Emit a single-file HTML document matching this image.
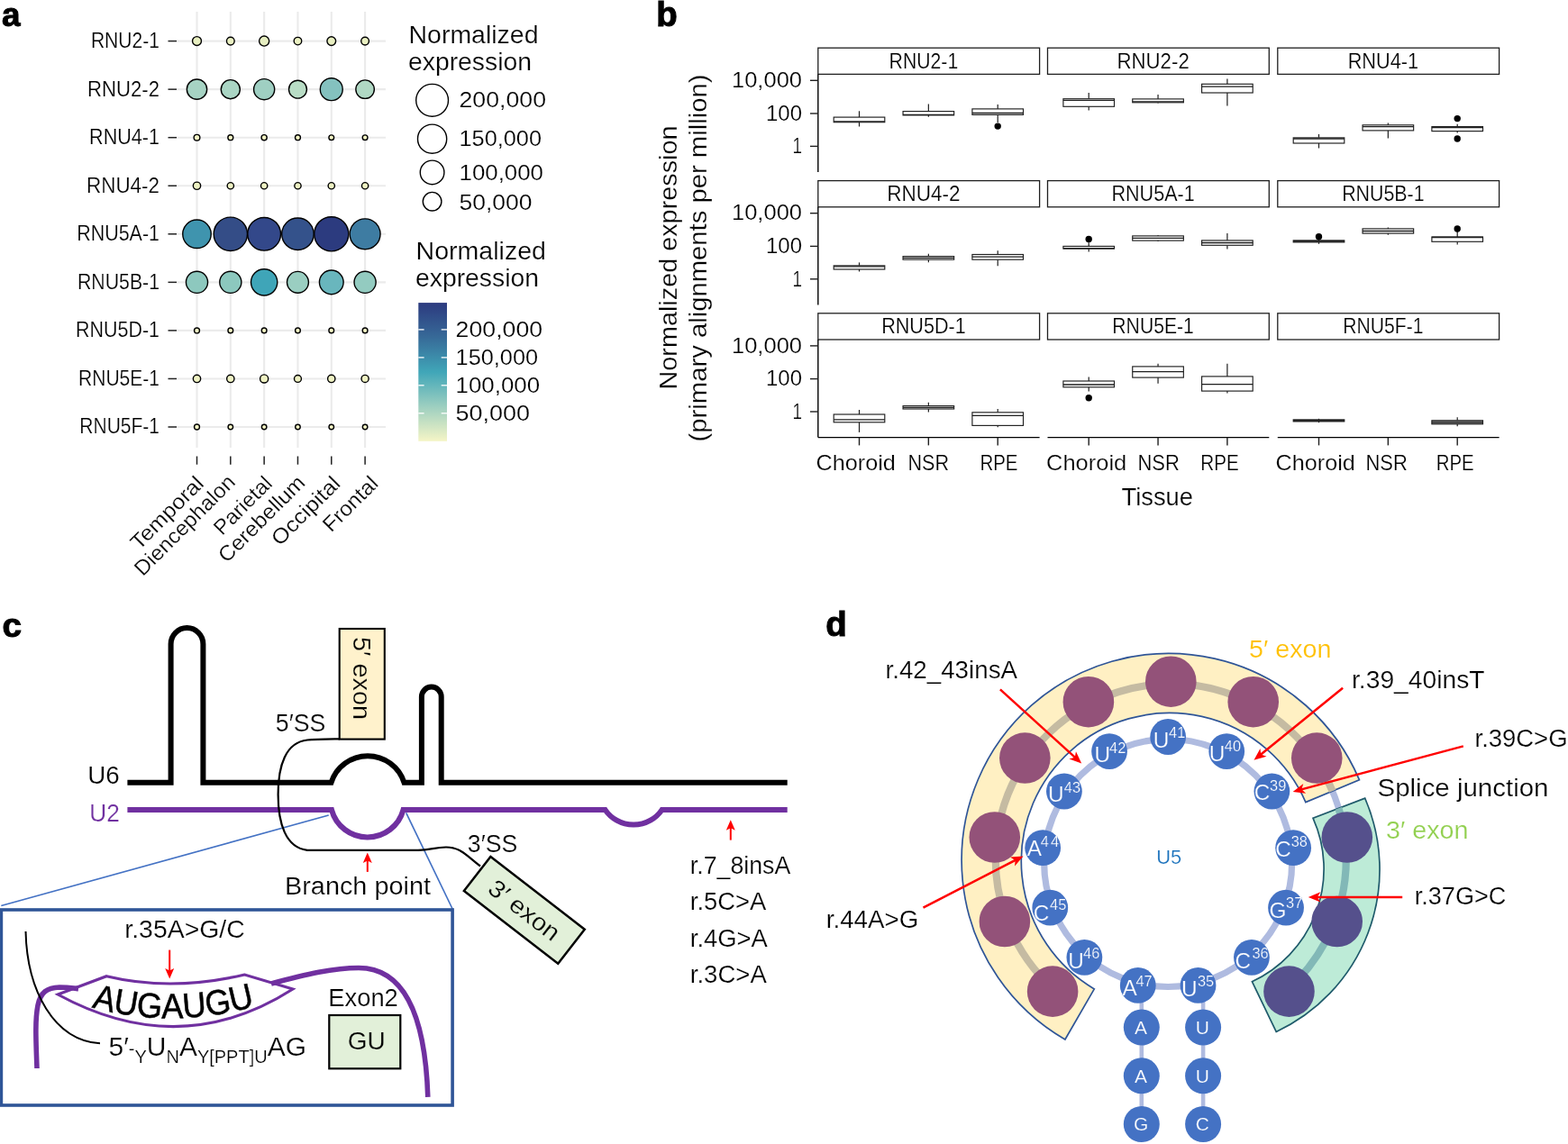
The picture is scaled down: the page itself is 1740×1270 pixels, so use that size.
<!DOCTYPE html>
<html lang="en"><head><meta charset="utf-8"><title>Figure</title>
<style>
html,body{margin:0;padding:0;background:#fff;}
body{width:1740px;height:1270px;overflow:hidden;}
svg{display:block;font-family:'Liberation Sans', sans-serif;}
text{stroke:#fff;stroke-width:0.22px;}
text.k{stroke:#000;}
text.y{stroke:#FFF2CC;}
text.g{stroke:#E2F0D9;}
text.b{stroke:#4472C4;}
</style></head>
<body>
<svg width="1740" height="1270" viewBox="0 0 1740 1270">
<rect width="1740" height="1270" fill="#fff"/>
<g id="panel-a">
<text x="2.10" y="29.30" font-size="37" textLength="20.50" lengthAdjust="spacingAndGlyphs" font-weight="bold" class="k" style="stroke-width:1px">a</text>
<line x1="218.50" y1="13.00" x2="218.50" y2="497.00" stroke="#ebebeb" stroke-width="2.1" />
<line x1="255.82" y1="13.00" x2="255.82" y2="497.00" stroke="#ebebeb" stroke-width="2.1" />
<line x1="293.14" y1="13.00" x2="293.14" y2="497.00" stroke="#ebebeb" stroke-width="2.1" />
<line x1="330.46" y1="13.00" x2="330.46" y2="497.00" stroke="#ebebeb" stroke-width="2.1" />
<line x1="367.78" y1="13.00" x2="367.78" y2="497.00" stroke="#ebebeb" stroke-width="2.1" />
<line x1="405.10" y1="13.00" x2="405.10" y2="497.00" stroke="#ebebeb" stroke-width="2.1" />
<line x1="196.00" y1="45.60" x2="428.00" y2="45.60" stroke="#ebebeb" stroke-width="2.1" />
<line x1="196.00" y1="99.15" x2="428.00" y2="99.15" stroke="#ebebeb" stroke-width="2.1" />
<line x1="196.00" y1="152.70" x2="428.00" y2="152.70" stroke="#ebebeb" stroke-width="2.1" />
<line x1="196.00" y1="206.25" x2="428.00" y2="206.25" stroke="#ebebeb" stroke-width="2.1" />
<line x1="196.00" y1="259.80" x2="428.00" y2="259.80" stroke="#ebebeb" stroke-width="2.1" />
<line x1="196.00" y1="313.35" x2="428.00" y2="313.35" stroke="#ebebeb" stroke-width="2.1" />
<line x1="196.00" y1="366.90" x2="428.00" y2="366.90" stroke="#ebebeb" stroke-width="2.1" />
<line x1="196.00" y1="420.45" x2="428.00" y2="420.45" stroke="#ebebeb" stroke-width="2.1" />
<line x1="196.00" y1="474.00" x2="428.00" y2="474.00" stroke="#ebebeb" stroke-width="2.1" />
<line x1="186.50" y1="45.60" x2="196.00" y2="45.60" stroke="#222" stroke-width="1.5" />
<line x1="186.50" y1="99.15" x2="196.00" y2="99.15" stroke="#222" stroke-width="1.5" />
<line x1="186.50" y1="152.70" x2="196.00" y2="152.70" stroke="#222" stroke-width="1.5" />
<line x1="186.50" y1="206.25" x2="196.00" y2="206.25" stroke="#222" stroke-width="1.5" />
<line x1="186.50" y1="259.80" x2="196.00" y2="259.80" stroke="#222" stroke-width="1.5" />
<line x1="186.50" y1="313.35" x2="196.00" y2="313.35" stroke="#222" stroke-width="1.5" />
<line x1="186.50" y1="366.90" x2="196.00" y2="366.90" stroke="#222" stroke-width="1.5" />
<line x1="186.50" y1="420.45" x2="196.00" y2="420.45" stroke="#222" stroke-width="1.5" />
<line x1="186.50" y1="474.00" x2="196.00" y2="474.00" stroke="#222" stroke-width="1.5" />
<line x1="218.50" y1="506.50" x2="218.50" y2="515.70" stroke="#222" stroke-width="1.5" />
<line x1="255.82" y1="506.50" x2="255.82" y2="515.70" stroke="#222" stroke-width="1.5" />
<line x1="293.14" y1="506.50" x2="293.14" y2="515.70" stroke="#222" stroke-width="1.5" />
<line x1="330.46" y1="506.50" x2="330.46" y2="515.70" stroke="#222" stroke-width="1.5" />
<line x1="367.78" y1="506.50" x2="367.78" y2="515.70" stroke="#222" stroke-width="1.5" />
<line x1="405.10" y1="506.50" x2="405.10" y2="515.70" stroke="#222" stroke-width="1.5" />
<text x="177.00" y="53.00" font-size="23.4" text-anchor="end" textLength="76.10" lengthAdjust="spacingAndGlyphs">RNU2-1</text>
<text x="177.00" y="106.55" font-size="23.4" text-anchor="end" textLength="79.90" lengthAdjust="spacingAndGlyphs">RNU2-2</text>
<text x="177.00" y="160.10" font-size="23.4" text-anchor="end" textLength="77.90" lengthAdjust="spacingAndGlyphs">RNU4-1</text>
<text x="177.00" y="213.65" font-size="23.4" text-anchor="end" textLength="80.90" lengthAdjust="spacingAndGlyphs">RNU4-2</text>
<text x="177.00" y="267.20" font-size="23.4" text-anchor="end" textLength="91.80" lengthAdjust="spacingAndGlyphs">RNU5A-1</text>
<text x="177.00" y="320.75" font-size="23.4" text-anchor="end" textLength="91.00" lengthAdjust="spacingAndGlyphs">RNU5B-1</text>
<text x="177.00" y="374.30" font-size="23.4" text-anchor="end" textLength="93.00" lengthAdjust="spacingAndGlyphs">RNU5D-1</text>
<text x="177.00" y="427.85" font-size="23.4" text-anchor="end" textLength="90.00" lengthAdjust="spacingAndGlyphs">RNU5E-1</text>
<text x="177.00" y="481.40" font-size="23.4" text-anchor="end" textLength="88.70" lengthAdjust="spacingAndGlyphs">RNU5F-1</text>
<circle cx="218.50" cy="45.60" r="4.95" fill="#E8EFC1" stroke="#000" stroke-width="1.4"/>
<circle cx="255.82" cy="45.60" r="4.35" fill="#EAF0C2" stroke="#000" stroke-width="1.4"/>
<circle cx="293.14" cy="45.60" r="5.55" fill="#E6EEC1" stroke="#000" stroke-width="1.4"/>
<circle cx="330.46" cy="45.60" r="4.25" fill="#EBF1C2" stroke="#000" stroke-width="1.4"/>
<circle cx="367.78" cy="45.60" r="4.85" fill="#E8EFC1" stroke="#000" stroke-width="1.4"/>
<circle cx="405.10" cy="45.60" r="4.35" fill="#EAF0C2" stroke="#000" stroke-width="1.4"/>
<circle cx="218.50" cy="99.15" r="11.15" fill="#A6D3C3" stroke="#000" stroke-width="1.4"/>
<circle cx="255.82" cy="99.15" r="10.55" fill="#AAD5C4" stroke="#000" stroke-width="1.4"/>
<circle cx="293.14" cy="99.15" r="11.55" fill="#9FCFC2" stroke="#000" stroke-width="1.4"/>
<circle cx="330.46" cy="99.15" r="9.95" fill="#B8DCC5" stroke="#000" stroke-width="1.4"/>
<circle cx="367.78" cy="99.15" r="12.45" fill="#84C1BF" stroke="#000" stroke-width="1.4"/>
<circle cx="405.10" cy="99.15" r="10.25" fill="#B0D8C4" stroke="#000" stroke-width="1.4"/>
<circle cx="218.50" cy="152.70" r="3.35" fill="#F3F4C4" stroke="#000" stroke-width="1.4"/>
<circle cx="255.82" cy="152.70" r="2.95" fill="#F3F4C4" stroke="#000" stroke-width="1.4"/>
<circle cx="293.14" cy="152.70" r="3.05" fill="#F3F4C4" stroke="#000" stroke-width="1.4"/>
<circle cx="330.46" cy="152.70" r="2.95" fill="#F3F4C4" stroke="#000" stroke-width="1.4"/>
<circle cx="367.78" cy="152.70" r="2.85" fill="#F3F4C4" stroke="#000" stroke-width="1.4"/>
<circle cx="405.10" cy="152.70" r="2.85" fill="#F3F4C4" stroke="#000" stroke-width="1.4"/>
<circle cx="218.50" cy="206.25" r="4.15" fill="#EEF2C3" stroke="#000" stroke-width="1.4"/>
<circle cx="255.82" cy="206.25" r="3.65" fill="#EEF2C3" stroke="#000" stroke-width="1.4"/>
<circle cx="293.14" cy="206.25" r="3.65" fill="#EEF2C3" stroke="#000" stroke-width="1.4"/>
<circle cx="330.46" cy="206.25" r="3.65" fill="#EEF2C3" stroke="#000" stroke-width="1.4"/>
<circle cx="367.78" cy="206.25" r="3.65" fill="#EEF2C3" stroke="#000" stroke-width="1.4"/>
<circle cx="405.10" cy="206.25" r="3.65" fill="#EEF2C3" stroke="#000" stroke-width="1.4"/>
<circle cx="218.50" cy="259.80" r="15.75" fill="#3F94AE" stroke="#000" stroke-width="1.4"/>
<circle cx="255.82" cy="259.80" r="18.65" fill="#344D87" stroke="#000" stroke-width="1.4"/>
<circle cx="293.14" cy="259.80" r="18.35" fill="#33488A" stroke="#000" stroke-width="1.4"/>
<circle cx="330.46" cy="259.80" r="17.75" fill="#34528B" stroke="#000" stroke-width="1.4"/>
<circle cx="367.78" cy="259.80" r="19.05" fill="#2C3B7F" stroke="#000" stroke-width="1.4"/>
<circle cx="405.10" cy="259.80" r="16.95" fill="#3E7CA2" stroke="#000" stroke-width="1.4"/>
<circle cx="218.50" cy="313.35" r="12.05" fill="#8DC8BE" stroke="#000" stroke-width="1.4"/>
<circle cx="255.82" cy="313.35" r="12.05" fill="#8CC8BE" stroke="#000" stroke-width="1.4"/>
<circle cx="293.14" cy="313.35" r="14.65" fill="#3FA5B8" stroke="#000" stroke-width="1.4"/>
<circle cx="330.46" cy="313.35" r="11.95" fill="#9ACEC1" stroke="#000" stroke-width="1.4"/>
<circle cx="367.78" cy="313.35" r="13.35" fill="#69B6BD" stroke="#000" stroke-width="1.4"/>
<circle cx="405.10" cy="313.35" r="12.05" fill="#93CBC0" stroke="#000" stroke-width="1.4"/>
<circle cx="218.50" cy="366.90" r="2.95" fill="#F4F5C5" stroke="#000" stroke-width="1.4"/>
<circle cx="255.82" cy="366.90" r="2.85" fill="#F4F5C5" stroke="#000" stroke-width="1.4"/>
<circle cx="293.14" cy="366.90" r="2.85" fill="#F4F5C5" stroke="#000" stroke-width="1.4"/>
<circle cx="330.46" cy="366.90" r="2.85" fill="#F4F5C5" stroke="#000" stroke-width="1.4"/>
<circle cx="367.78" cy="366.90" r="2.85" fill="#F4F5C5" stroke="#000" stroke-width="1.4"/>
<circle cx="405.10" cy="366.90" r="2.85" fill="#F4F5C5" stroke="#000" stroke-width="1.4"/>
<circle cx="218.50" cy="420.45" r="4.15" fill="#EFF2C3" stroke="#000" stroke-width="1.4"/>
<circle cx="255.82" cy="420.45" r="4.15" fill="#EFF2C3" stroke="#000" stroke-width="1.4"/>
<circle cx="293.14" cy="420.45" r="4.55" fill="#EFF2C3" stroke="#000" stroke-width="1.4"/>
<circle cx="330.46" cy="420.45" r="3.95" fill="#EFF2C3" stroke="#000" stroke-width="1.4"/>
<circle cx="367.78" cy="420.45" r="4.15" fill="#EFF2C3" stroke="#000" stroke-width="1.4"/>
<circle cx="405.10" cy="420.45" r="4.05" fill="#EFF2C3" stroke="#000" stroke-width="1.4"/>
<circle cx="218.50" cy="474.00" r="2.95" fill="#F4F5C5" stroke="#000" stroke-width="1.4"/>
<circle cx="255.82" cy="474.00" r="2.75" fill="#F4F5C5" stroke="#000" stroke-width="1.4"/>
<circle cx="293.14" cy="474.00" r="2.75" fill="#F4F5C5" stroke="#000" stroke-width="1.4"/>
<circle cx="330.46" cy="474.00" r="2.75" fill="#F4F5C5" stroke="#000" stroke-width="1.4"/>
<circle cx="367.78" cy="474.00" r="2.75" fill="#F4F5C5" stroke="#000" stroke-width="1.4"/>
<circle cx="405.10" cy="474.00" r="2.75" fill="#F4F5C5" stroke="#000" stroke-width="1.4"/>
<text font-size="23.4" text-anchor="end" textLength="103.5" lengthAdjust="spacingAndGlyphs" transform="translate(227.40,538.30) rotate(-45)">Temporal</text>
<text font-size="23.4" text-anchor="end" textLength="147" lengthAdjust="spacingAndGlyphs" transform="translate(262.40,536.60) rotate(-45)">Diencephalon</text>
<text font-size="23.4" text-anchor="end" textLength="80.5" lengthAdjust="spacingAndGlyphs" transform="translate(303.40,538.30) rotate(-45)">Parietal</text>
<text font-size="23.4" text-anchor="end" textLength="125" lengthAdjust="spacingAndGlyphs" transform="translate(339.90,537.40) rotate(-45)">Cerebellum</text>
<text font-size="23.4" text-anchor="end" textLength="97" lengthAdjust="spacingAndGlyphs" transform="translate(379.10,538.30) rotate(-45)">Occipital</text>
<text font-size="23.4" text-anchor="end" textLength="75.5" lengthAdjust="spacingAndGlyphs" transform="translate(421.00,538.30) rotate(-45)">Frontal</text>
<text x="453.50" y="48.00" font-size="27.5" textLength="144.00" lengthAdjust="spacingAndGlyphs">Normalized</text>
<text x="453.00" y="77.50" font-size="27.5" textLength="137.00" lengthAdjust="spacingAndGlyphs">expression</text>
<circle cx="479.6" cy="111.3" r="17.90" fill="#fff" stroke="#000" stroke-width="1.4"/>
<text x="509.50" y="119.00" font-size="24.8" textLength="96.50" lengthAdjust="spacingAndGlyphs">200,000</text>
<circle cx="479.6" cy="154.2" r="16.10" fill="#fff" stroke="#000" stroke-width="1.4"/>
<text x="509.50" y="161.90" font-size="24.8" textLength="91.50" lengthAdjust="spacingAndGlyphs">150,000</text>
<circle cx="479.6" cy="191.4" r="13.30" fill="#fff" stroke="#000" stroke-width="1.4"/>
<text x="509.50" y="199.50" font-size="24.8" textLength="93.50" lengthAdjust="spacingAndGlyphs">100,000</text>
<circle cx="479.6" cy="223.7" r="10.30" fill="#fff" stroke="#000" stroke-width="1.4"/>
<text x="509.50" y="232.50" font-size="24.8" textLength="81.00" lengthAdjust="spacingAndGlyphs">50,000</text>
<text x="461.50" y="288.40" font-size="27.5" textLength="144.50" lengthAdjust="spacingAndGlyphs">Normalized</text>
<text x="461.00" y="318.00" font-size="27.5" textLength="137.00" lengthAdjust="spacingAndGlyphs">expression</text>
<defs><linearGradient id="cb" x1="0" y1="0" x2="0" y2="1"><stop offset="0" stop-color="#2C3A7F"/><stop offset="0.25" stop-color="#376A98"/><stop offset="0.5" stop-color="#40A6B8"/><stop offset="0.75" stop-color="#9DCFC0"/><stop offset="1" stop-color="#F5F5C6"/></linearGradient></defs>
<rect x="464.3" y="336.1" width="31.7" height="153.7" fill="url(#cb)"/>
<line x1="464.30" y1="365.90" x2="470.60" y2="365.90" stroke="#fff" stroke-width="1.3" />
<line x1="489.70" y1="365.90" x2="496.00" y2="365.90" stroke="#fff" stroke-width="1.3" />
<text x="505.60" y="374.00" font-size="24.8" textLength="96.50" lengthAdjust="spacingAndGlyphs">200,000</text>
<line x1="464.30" y1="396.90" x2="470.60" y2="396.90" stroke="#fff" stroke-width="1.3" />
<line x1="489.70" y1="396.90" x2="496.00" y2="396.90" stroke="#fff" stroke-width="1.3" />
<text x="505.60" y="405.00" font-size="24.8" textLength="91.50" lengthAdjust="spacingAndGlyphs">150,000</text>
<line x1="464.30" y1="427.80" x2="470.60" y2="427.80" stroke="#fff" stroke-width="1.3" />
<line x1="489.70" y1="427.80" x2="496.00" y2="427.80" stroke="#fff" stroke-width="1.3" />
<text x="505.60" y="435.90" font-size="24.8" textLength="93.50" lengthAdjust="spacingAndGlyphs">100,000</text>
<line x1="464.30" y1="458.80" x2="470.60" y2="458.80" stroke="#fff" stroke-width="1.3" />
<line x1="489.70" y1="458.80" x2="496.00" y2="458.80" stroke="#fff" stroke-width="1.3" />
<text x="505.60" y="466.90" font-size="24.8" textLength="82.50" lengthAdjust="spacingAndGlyphs">50,000</text>
</g>
<g id="panel-b">
<text x="728.30" y="29.20" font-size="38" textLength="23.50" lengthAdjust="spacingAndGlyphs" font-weight="bold" class="k" style="stroke-width:1px">b</text>
<rect x="907.80" y="53.20" width="245.8" height="29.2" fill="#fff" stroke="#1f1f1f" stroke-width="1.3"/>
<text x="1024.90" y="75.50" font-size="23.4" text-anchor="middle" textLength="76.60" lengthAdjust="spacingAndGlyphs">RNU2-1</text>
<line x1="907.80" y1="82.40" x2="907.80" y2="191.00" stroke="#000" stroke-width="1.4" />
<line x1="899.00" y1="89.30" x2="907.80" y2="89.30" stroke="#1f1f1f" stroke-width="1.4" />
<text x="890.00" y="97.00" font-size="24.1" text-anchor="end" textLength="78.00" lengthAdjust="spacingAndGlyphs">10,000</text>
<line x1="899.00" y1="126.00" x2="907.80" y2="126.00" stroke="#1f1f1f" stroke-width="1.4" />
<text x="890.00" y="133.70" font-size="24.1" text-anchor="end" textLength="40.00" lengthAdjust="spacingAndGlyphs">100</text>
<line x1="899.00" y1="162.40" x2="907.80" y2="162.40" stroke="#1f1f1f" stroke-width="1.4" />
<text x="890.00" y="170.10" font-size="24.1" text-anchor="end" textLength="10.50" lengthAdjust="spacingAndGlyphs">1</text>
<line x1="953.50" y1="123.30" x2="953.50" y2="130.10" stroke="#1f1f1f" stroke-width="1.2" />
<line x1="953.50" y1="135.70" x2="953.50" y2="140.50" stroke="#1f1f1f" stroke-width="1.2" />
<rect x="925.20" y="130.10" width="56.6" height="5.60" fill="#fff" stroke="#1f1f1f" stroke-width="1.15"/>
<line x1="925.20" y1="134.90" x2="981.80" y2="134.90" stroke="#1f1f1f" stroke-width="1.3" />
<line x1="1030.35" y1="115.40" x2="1030.35" y2="123.60" stroke="#1f1f1f" stroke-width="1.2" />
<line x1="1030.35" y1="127.90" x2="1030.35" y2="129.80" stroke="#1f1f1f" stroke-width="1.2" />
<rect x="1002.05" y="123.60" width="56.6" height="4.30" fill="#fff" stroke="#1f1f1f" stroke-width="1.15"/>
<line x1="1002.05" y1="127.40" x2="1058.65" y2="127.40" stroke="#1f1f1f" stroke-width="1.3" />
<line x1="1107.20" y1="115.90" x2="1107.20" y2="120.90" stroke="#1f1f1f" stroke-width="1.2" />
<line x1="1107.20" y1="127.40" x2="1107.20" y2="136.00" stroke="#1f1f1f" stroke-width="1.2" />
<rect x="1078.90" y="120.90" width="56.6" height="6.50" fill="#fff" stroke="#1f1f1f" stroke-width="1.15"/>
<line x1="1078.90" y1="125.50" x2="1135.50" y2="125.50" stroke="#1f1f1f" stroke-width="1.3" />
<circle cx="1107.20" cy="140.1" r="3.7" fill="#000"/>
<rect x="1162.50" y="53.20" width="245.8" height="29.2" fill="#fff" stroke="#1f1f1f" stroke-width="1.3"/>
<text x="1279.60" y="75.50" font-size="23.4" text-anchor="middle" textLength="80.40" lengthAdjust="spacingAndGlyphs">RNU2-2</text>
<line x1="1208.20" y1="103.10" x2="1208.20" y2="109.70" stroke="#1f1f1f" stroke-width="1.2" />
<line x1="1208.20" y1="118.30" x2="1208.20" y2="122.60" stroke="#1f1f1f" stroke-width="1.2" />
<rect x="1179.90" y="109.70" width="56.6" height="8.60" fill="#fff" stroke="#1f1f1f" stroke-width="1.15"/>
<line x1="1179.90" y1="111.40" x2="1236.50" y2="111.40" stroke="#1f1f1f" stroke-width="1.3" />
<line x1="1285.05" y1="105.10" x2="1285.05" y2="109.90" stroke="#1f1f1f" stroke-width="1.2" />
<line x1="1285.05" y1="113.80" x2="1285.05" y2="114.60" stroke="#1f1f1f" stroke-width="1.2" />
<rect x="1256.75" y="109.90" width="56.6" height="3.90" fill="#fff" stroke="#1f1f1f" stroke-width="1.15"/>
<line x1="1256.75" y1="112.80" x2="1313.35" y2="112.80" stroke="#1f1f1f" stroke-width="1.3" />
<line x1="1361.90" y1="87.40" x2="1361.90" y2="93.30" stroke="#1f1f1f" stroke-width="1.2" />
<line x1="1361.90" y1="103.00" x2="1361.90" y2="117.40" stroke="#1f1f1f" stroke-width="1.2" />
<rect x="1333.60" y="93.30" width="56.6" height="9.70" fill="#fff" stroke="#1f1f1f" stroke-width="1.15"/>
<line x1="1333.60" y1="96.10" x2="1390.20" y2="96.10" stroke="#1f1f1f" stroke-width="1.3" />
<rect x="1417.80" y="53.20" width="245.8" height="29.2" fill="#fff" stroke="#1f1f1f" stroke-width="1.3"/>
<text x="1534.90" y="75.50" font-size="23.4" text-anchor="middle" textLength="78.40" lengthAdjust="spacingAndGlyphs">RNU4-1</text>
<line x1="1463.50" y1="149.00" x2="1463.50" y2="152.90" stroke="#1f1f1f" stroke-width="1.2" />
<line x1="1463.50" y1="159.00" x2="1463.50" y2="164.50" stroke="#1f1f1f" stroke-width="1.2" />
<rect x="1435.20" y="152.90" width="56.6" height="6.10" fill="#fff" stroke="#1f1f1f" stroke-width="1.15"/>
<line x1="1435.20" y1="154.00" x2="1491.80" y2="154.00" stroke="#1f1f1f" stroke-width="1.3" />
<line x1="1540.35" y1="136.50" x2="1540.35" y2="138.80" stroke="#1f1f1f" stroke-width="1.2" />
<line x1="1540.35" y1="144.90" x2="1540.35" y2="153.50" stroke="#1f1f1f" stroke-width="1.2" />
<rect x="1512.05" y="138.80" width="56.6" height="6.10" fill="#fff" stroke="#1f1f1f" stroke-width="1.15"/>
<line x1="1512.05" y1="140.60" x2="1568.65" y2="140.60" stroke="#1f1f1f" stroke-width="1.3" />
<line x1="1617.20" y1="137.80" x2="1617.20" y2="140.60" stroke="#1f1f1f" stroke-width="1.2" />
<line x1="1617.20" y1="145.60" x2="1617.20" y2="147.50" stroke="#1f1f1f" stroke-width="1.2" />
<rect x="1588.90" y="140.60" width="56.6" height="5.00" fill="#fff" stroke="#1f1f1f" stroke-width="1.15"/>
<line x1="1588.90" y1="141.70" x2="1645.50" y2="141.70" stroke="#1f1f1f" stroke-width="1.3" />
<circle cx="1617.20" cy="131.6" r="3.7" fill="#000"/>
<circle cx="1617.20" cy="154.0" r="3.7" fill="#000"/>
<rect x="907.80" y="200.60" width="245.8" height="29.2" fill="#fff" stroke="#1f1f1f" stroke-width="1.3"/>
<text x="1024.90" y="222.90" font-size="23.4" text-anchor="middle" textLength="81.40" lengthAdjust="spacingAndGlyphs">RNU4-2</text>
<line x1="907.80" y1="229.80" x2="907.80" y2="338.40" stroke="#000" stroke-width="1.4" />
<line x1="899.00" y1="236.70" x2="907.80" y2="236.70" stroke="#1f1f1f" stroke-width="1.4" />
<text x="890.00" y="244.40" font-size="24.1" text-anchor="end" textLength="78.00" lengthAdjust="spacingAndGlyphs">10,000</text>
<line x1="899.00" y1="273.40" x2="907.80" y2="273.40" stroke="#1f1f1f" stroke-width="1.4" />
<text x="890.00" y="281.10" font-size="24.1" text-anchor="end" textLength="40.00" lengthAdjust="spacingAndGlyphs">100</text>
<line x1="899.00" y1="309.80" x2="907.80" y2="309.80" stroke="#1f1f1f" stroke-width="1.4" />
<text x="890.00" y="317.50" font-size="24.1" text-anchor="end" textLength="10.50" lengthAdjust="spacingAndGlyphs">1</text>
<line x1="953.50" y1="291.40" x2="953.50" y2="294.90" stroke="#1f1f1f" stroke-width="1.2" />
<line x1="953.50" y1="299.00" x2="953.50" y2="301.50" stroke="#1f1f1f" stroke-width="1.2" />
<rect x="925.20" y="294.90" width="56.6" height="4.10" fill="#fff" stroke="#1f1f1f" stroke-width="1.15"/>
<line x1="925.20" y1="295.90" x2="981.80" y2="295.90" stroke="#1f1f1f" stroke-width="1.3" />
<line x1="1030.35" y1="281.80" x2="1030.35" y2="284.60" stroke="#1f1f1f" stroke-width="1.2" />
<line x1="1030.35" y1="288.20" x2="1030.35" y2="291.20" stroke="#1f1f1f" stroke-width="1.2" />
<rect x="1002.05" y="284.60" width="56.6" height="3.60" fill="#fff" stroke="#1f1f1f" stroke-width="1.15"/>
<line x1="1002.05" y1="286.30" x2="1058.65" y2="286.30" stroke="#1f1f1f" stroke-width="1.3" />
<line x1="1107.20" y1="278.20" x2="1107.20" y2="282.50" stroke="#1f1f1f" stroke-width="1.2" />
<line x1="1107.20" y1="288.20" x2="1107.20" y2="295.20" stroke="#1f1f1f" stroke-width="1.2" />
<rect x="1078.90" y="282.50" width="56.6" height="5.70" fill="#fff" stroke="#1f1f1f" stroke-width="1.15"/>
<line x1="1078.90" y1="285.20" x2="1135.50" y2="285.20" stroke="#1f1f1f" stroke-width="1.3" />
<rect x="1162.50" y="200.60" width="245.8" height="29.2" fill="#fff" stroke="#1f1f1f" stroke-width="1.3"/>
<text x="1279.60" y="222.90" font-size="23.4" text-anchor="middle" textLength="92.30" lengthAdjust="spacingAndGlyphs">RNU5A-1</text>
<line x1="1208.20" y1="268.00" x2="1208.20" y2="273.40" stroke="#1f1f1f" stroke-width="1.2" />
<line x1="1208.20" y1="276.10" x2="1208.20" y2="279.60" stroke="#1f1f1f" stroke-width="1.2" />
<rect x="1179.90" y="273.40" width="56.6" height="2.70" fill="#fff" stroke="#1f1f1f" stroke-width="1.15"/>
<line x1="1179.90" y1="275.70" x2="1236.50" y2="275.70" stroke="#1f1f1f" stroke-width="1.3" />
<circle cx="1208.20" cy="265.4" r="3.7" fill="#000"/>
<line x1="1285.05" y1="261.00" x2="1285.05" y2="261.90" stroke="#1f1f1f" stroke-width="1.2" />
<line x1="1285.05" y1="267.10" x2="1285.05" y2="268.00" stroke="#1f1f1f" stroke-width="1.2" />
<rect x="1256.75" y="261.90" width="56.6" height="5.20" fill="#fff" stroke="#1f1f1f" stroke-width="1.15"/>
<line x1="1256.75" y1="264.30" x2="1313.35" y2="264.30" stroke="#1f1f1f" stroke-width="1.3" />
<line x1="1361.90" y1="258.90" x2="1361.90" y2="266.90" stroke="#1f1f1f" stroke-width="1.2" />
<line x1="1361.90" y1="272.30" x2="1361.90" y2="276.40" stroke="#1f1f1f" stroke-width="1.2" />
<rect x="1333.60" y="266.90" width="56.6" height="5.40" fill="#fff" stroke="#1f1f1f" stroke-width="1.15"/>
<line x1="1333.60" y1="269.50" x2="1390.20" y2="269.50" stroke="#1f1f1f" stroke-width="1.3" />
<rect x="1417.80" y="200.60" width="245.8" height="29.2" fill="#fff" stroke="#1f1f1f" stroke-width="1.3"/>
<text x="1534.90" y="222.90" font-size="23.4" text-anchor="middle" textLength="91.50" lengthAdjust="spacingAndGlyphs">RNU5B-1</text>
<line x1="1463.50" y1="265.50" x2="1463.50" y2="266.90" stroke="#1f1f1f" stroke-width="1.2" />
<line x1="1463.50" y1="268.90" x2="1463.50" y2="270.80" stroke="#1f1f1f" stroke-width="1.2" />
<rect x="1435.20" y="266.90" width="56.6" height="2.00" fill="#555" stroke="#1f1f1f" stroke-width="1.15"/>
<line x1="1435.20" y1="267.60" x2="1491.80" y2="267.60" stroke="#1f1f1f" stroke-width="1.3" />
<circle cx="1463.50" cy="262.7" r="3.7" fill="#000"/>
<line x1="1540.35" y1="252.40" x2="1540.35" y2="253.90" stroke="#1f1f1f" stroke-width="1.2" />
<line x1="1540.35" y1="259.10" x2="1540.35" y2="260.70" stroke="#1f1f1f" stroke-width="1.2" />
<rect x="1512.05" y="253.90" width="56.6" height="5.20" fill="#fff" stroke="#1f1f1f" stroke-width="1.15"/>
<line x1="1512.05" y1="256.50" x2="1568.65" y2="256.50" stroke="#1f1f1f" stroke-width="1.3" />
<line x1="1617.20" y1="257.00" x2="1617.20" y2="263.00" stroke="#1f1f1f" stroke-width="1.2" />
<line x1="1617.20" y1="268.30" x2="1617.20" y2="271.50" stroke="#1f1f1f" stroke-width="1.2" />
<rect x="1588.90" y="263.00" width="56.6" height="5.30" fill="#fff" stroke="#1f1f1f" stroke-width="1.15"/>
<line x1="1588.90" y1="263.50" x2="1645.50" y2="263.50" stroke="#1f1f1f" stroke-width="1.3" />
<circle cx="1617.20" cy="254.0" r="3.7" fill="#000"/>
<rect x="907.80" y="347.80" width="245.8" height="29.2" fill="#fff" stroke="#1f1f1f" stroke-width="1.3"/>
<text x="1024.90" y="370.10" font-size="23.4" text-anchor="middle" textLength="93.50" lengthAdjust="spacingAndGlyphs">RNU5D-1</text>
<line x1="907.80" y1="377.00" x2="907.80" y2="485.60" stroke="#000" stroke-width="1.4" />
<line x1="899.00" y1="383.90" x2="907.80" y2="383.90" stroke="#1f1f1f" stroke-width="1.4" />
<text x="890.00" y="391.60" font-size="24.1" text-anchor="end" textLength="78.00" lengthAdjust="spacingAndGlyphs">10,000</text>
<line x1="899.00" y1="420.60" x2="907.80" y2="420.60" stroke="#1f1f1f" stroke-width="1.4" />
<text x="890.00" y="428.30" font-size="24.1" text-anchor="end" textLength="40.00" lengthAdjust="spacingAndGlyphs">100</text>
<line x1="899.00" y1="457.00" x2="907.80" y2="457.00" stroke="#1f1f1f" stroke-width="1.4" />
<text x="890.00" y="464.70" font-size="24.1" text-anchor="end" textLength="10.50" lengthAdjust="spacingAndGlyphs">1</text>
<line x1="907.80" y1="485.60" x2="1153.60" y2="485.60" stroke="#000" stroke-width="1.4" />
<line x1="953.50" y1="485.60" x2="953.50" y2="494.40" stroke="#1f1f1f" stroke-width="1.4" />
<text x="905.50" y="521.80" font-size="24" textLength="88.30" lengthAdjust="spacingAndGlyphs">Choroid</text>
<line x1="1030.35" y1="485.60" x2="1030.35" y2="494.40" stroke="#1f1f1f" stroke-width="1.4" />
<text x="1007.50" y="521.80" font-size="24" textLength="45.50" lengthAdjust="spacingAndGlyphs">NSR</text>
<line x1="1107.20" y1="485.60" x2="1107.20" y2="494.40" stroke="#1f1f1f" stroke-width="1.4" />
<text x="1087.50" y="521.80" font-size="24" textLength="42.00" lengthAdjust="spacingAndGlyphs">RPE</text>
<line x1="953.50" y1="455.00" x2="953.50" y2="460.00" stroke="#1f1f1f" stroke-width="1.2" />
<line x1="953.50" y1="468.80" x2="953.50" y2="479.90" stroke="#1f1f1f" stroke-width="1.2" />
<rect x="925.20" y="460.00" width="56.6" height="8.80" fill="#fff" stroke="#1f1f1f" stroke-width="1.15"/>
<line x1="925.20" y1="465.80" x2="981.80" y2="465.80" stroke="#1f1f1f" stroke-width="1.3" />
<line x1="1030.35" y1="446.70" x2="1030.35" y2="450.60" stroke="#1f1f1f" stroke-width="1.2" />
<line x1="1030.35" y1="454.00" x2="1030.35" y2="457.50" stroke="#1f1f1f" stroke-width="1.2" />
<rect x="1002.05" y="450.60" width="56.6" height="3.40" fill="#fff" stroke="#1f1f1f" stroke-width="1.15"/>
<line x1="1002.05" y1="452.30" x2="1058.65" y2="452.30" stroke="#1f1f1f" stroke-width="1.3" />
<line x1="1107.20" y1="454.10" x2="1107.20" y2="457.80" stroke="#1f1f1f" stroke-width="1.2" />
<line x1="1107.20" y1="472.40" x2="1107.20" y2="474.30" stroke="#1f1f1f" stroke-width="1.2" />
<rect x="1078.90" y="457.80" width="56.6" height="14.60" fill="#fff" stroke="#1f1f1f" stroke-width="1.15"/>
<line x1="1078.90" y1="461.30" x2="1135.50" y2="461.30" stroke="#1f1f1f" stroke-width="1.3" />
<rect x="1162.50" y="347.80" width="245.8" height="29.2" fill="#fff" stroke="#1f1f1f" stroke-width="1.3"/>
<text x="1279.60" y="370.10" font-size="23.4" text-anchor="middle" textLength="90.50" lengthAdjust="spacingAndGlyphs">RNU5E-1</text>
<line x1="1162.50" y1="485.60" x2="1408.30" y2="485.60" stroke="#000" stroke-width="1.4" />
<line x1="1208.20" y1="485.60" x2="1208.20" y2="494.40" stroke="#1f1f1f" stroke-width="1.4" />
<text x="1161.10" y="521.80" font-size="24" textLength="89.10" lengthAdjust="spacingAndGlyphs">Choroid</text>
<line x1="1285.05" y1="485.60" x2="1285.05" y2="494.40" stroke="#1f1f1f" stroke-width="1.4" />
<text x="1262.50" y="521.80" font-size="24" textLength="46.40" lengthAdjust="spacingAndGlyphs">NSR</text>
<line x1="1361.90" y1="485.60" x2="1361.90" y2="494.40" stroke="#1f1f1f" stroke-width="1.4" />
<text x="1332.30" y="521.80" font-size="24" textLength="42.50" lengthAdjust="spacingAndGlyphs">RPE</text>
<line x1="1208.20" y1="418.50" x2="1208.20" y2="423.00" stroke="#1f1f1f" stroke-width="1.2" />
<line x1="1208.20" y1="429.80" x2="1208.20" y2="434.40" stroke="#1f1f1f" stroke-width="1.2" />
<rect x="1179.90" y="423.00" width="56.6" height="6.80" fill="#fff" stroke="#1f1f1f" stroke-width="1.15"/>
<line x1="1179.90" y1="427.00" x2="1236.50" y2="427.00" stroke="#1f1f1f" stroke-width="1.3" />
<circle cx="1208.20" cy="441.8" r="3.7" fill="#000"/>
<line x1="1285.05" y1="403.70" x2="1285.05" y2="406.90" stroke="#1f1f1f" stroke-width="1.2" />
<line x1="1285.05" y1="419.10" x2="1285.05" y2="425.70" stroke="#1f1f1f" stroke-width="1.2" />
<rect x="1256.75" y="406.90" width="56.6" height="12.20" fill="#fff" stroke="#1f1f1f" stroke-width="1.15"/>
<line x1="1256.75" y1="412.70" x2="1313.35" y2="412.70" stroke="#1f1f1f" stroke-width="1.3" />
<line x1="1361.90" y1="403.70" x2="1361.90" y2="417.90" stroke="#1f1f1f" stroke-width="1.2" />
<line x1="1361.90" y1="434.10" x2="1361.90" y2="436.40" stroke="#1f1f1f" stroke-width="1.2" />
<rect x="1333.60" y="417.90" width="56.6" height="16.20" fill="#fff" stroke="#1f1f1f" stroke-width="1.15"/>
<line x1="1333.60" y1="426.60" x2="1390.20" y2="426.60" stroke="#1f1f1f" stroke-width="1.3" />
<rect x="1417.80" y="347.80" width="245.8" height="29.2" fill="#fff" stroke="#1f1f1f" stroke-width="1.3"/>
<text x="1534.90" y="370.10" font-size="23.4" text-anchor="middle" textLength="89.20" lengthAdjust="spacingAndGlyphs">RNU5F-1</text>
<line x1="1417.80" y1="485.60" x2="1663.60" y2="485.60" stroke="#000" stroke-width="1.4" />
<line x1="1463.50" y1="485.60" x2="1463.50" y2="494.40" stroke="#1f1f1f" stroke-width="1.4" />
<text x="1415.50" y="521.80" font-size="24" textLength="88.30" lengthAdjust="spacingAndGlyphs">Choroid</text>
<line x1="1540.35" y1="485.60" x2="1540.35" y2="494.40" stroke="#1f1f1f" stroke-width="1.4" />
<text x="1515.50" y="521.80" font-size="24" textLength="46.30" lengthAdjust="spacingAndGlyphs">NSR</text>
<line x1="1617.20" y1="485.60" x2="1617.20" y2="494.40" stroke="#1f1f1f" stroke-width="1.4" />
<text x="1593.70" y="521.80" font-size="24" textLength="42.00" lengthAdjust="spacingAndGlyphs">RPE</text>
<line x1="1463.50" y1="464.80" x2="1463.50" y2="465.90" stroke="#1f1f1f" stroke-width="1.2" />
<line x1="1463.50" y1="467.90" x2="1463.50" y2="469.20" stroke="#1f1f1f" stroke-width="1.2" />
<rect x="1435.20" y="465.90" width="56.6" height="2.00" fill="#333" stroke="#1f1f1f" stroke-width="1.15"/>
<line x1="1435.20" y1="466.90" x2="1491.80" y2="466.90" stroke="#1f1f1f" stroke-width="1.3" />
<line x1="1617.20" y1="463.30" x2="1617.20" y2="466.80" stroke="#1f1f1f" stroke-width="1.2" />
<line x1="1617.20" y1="470.80" x2="1617.20" y2="473.20" stroke="#1f1f1f" stroke-width="1.2" />
<rect x="1588.90" y="466.80" width="56.6" height="4.00" fill="#8a8a8a" stroke="#1f1f1f" stroke-width="1.15"/>
<line x1="1588.90" y1="468.80" x2="1645.50" y2="468.80" stroke="#1f1f1f" stroke-width="1.3" />
<text x="1244.50" y="561.00" font-size="28" textLength="79.50" lengthAdjust="spacingAndGlyphs">Tissue</text>
<text font-size="28" text-anchor="middle" textLength="293" lengthAdjust="spacingAndGlyphs" transform="translate(751,286) rotate(-90)">Normalized expression</text>
<text font-size="28" text-anchor="middle" textLength="408" lengthAdjust="spacingAndGlyphs" transform="translate(783.8,286.5) rotate(-90)">(primary alignments per million)</text>
</g>
<g id="panel-c">
<text x="2.60" y="706.60" font-size="37" textLength="21.50" lengthAdjust="spacingAndGlyphs" font-weight="bold" class="k" style="stroke-width:1px">c</text>
<line x1="364.70" y1="905.00" x2="1.30" y2="1005.50" stroke="#4472C4" stroke-width="1.7" />
<line x1="450.70" y1="902.30" x2="502.10" y2="1009.00" stroke="#4472C4" stroke-width="1.7" />
<path d="M141.4 868.8 H189.6 V715 A17.9 17.9 0 0 1 225.4 715 V868.8 H367.5 A42.5 42.5 0 0 1 448.5 868.8 H467.9 V773.5 A10.9 10.9 0 0 1 489.7 773.5 V868.8 H873.7" fill="none" stroke="#000" stroke-width="6" stroke-linejoin="miter"/>
<path d="M141.4 899.1 H368 A41.2 41.2 0 0 0 447.5 899.1 H671.6 A38.2 38.2 0 0 0 734.5 899.1 H873.7" fill="none" stroke="#7030A0" stroke-width="6"/>
<text x="97.30" y="869.70" font-size="27" textLength="35.50" lengthAdjust="spacingAndGlyphs">U6</text>
<text x="99.30" y="912.30" font-size="27" textLength="33.50" lengthAdjust="spacingAndGlyphs" fill="#7030A0">U2</text>
<rect x="376.7" y="698" width="50.1" height="122.6" fill="#FFF2CC" stroke="#000" stroke-width="2.1"/>
<text class="y" font-size="27" text-anchor="middle" textLength="92" lengthAdjust="spacingAndGlyphs" transform="translate(392,753) rotate(90)">5′ exon</text>
<text x="305.80" y="812.20" font-size="27" textLength="55.50" lengthAdjust="spacingAndGlyphs">5′SS</text>
<path d="M376.7 820.3 C360 820.5 350 820.5 341 821.5 C317 824 308.6 850 308.6 882 C308.6 914 317 941 341 943.8 L464 943.8 C478 943.8 482 940.5 495 940.5 C512 940.5 520 952 533 961.5" fill="none" stroke="#000" stroke-width="2.2"/>
<line x1="407.80" y1="967.90" x2="407.80" y2="949.50" stroke="#FF0000" stroke-width="2" />
<path d="M407.80 946.50 L402.80 958.00 L407.80 955.50 L412.80 958.00 Z" fill="#FF0000"/>
<text x="316.00" y="992.60" font-size="27" textLength="162.00" lengthAdjust="spacingAndGlyphs">Branch point</text>
<g transform="translate(544.4,950.9) rotate(37.75)"><rect x="0" y="0" width="132" height="48.2" fill="#E2F0D9" stroke="#000" stroke-width="2.5"/><text class="g" x="66" y="33.3" font-size="27" text-anchor="middle" textLength="92" lengthAdjust="spacingAndGlyphs">3′ exon</text></g>
<text x="518.80" y="945.90" font-size="27" textLength="55.50" lengthAdjust="spacingAndGlyphs">3′SS</text>
<line x1="810.80" y1="932.60" x2="810.80" y2="913.30" stroke="#FF0000" stroke-width="2" />
<path d="M810.80 910.30 L805.80 921.80 L810.80 919.30 L815.80 921.80 Z" fill="#FF0000"/>
<text x="765.80" y="970.20" font-size="27" textLength="111.50" lengthAdjust="spacingAndGlyphs">r.7_8insA</text>
<text x="765.80" y="1010.35" font-size="27" textLength="84.50" lengthAdjust="spacingAndGlyphs">r.5C&gt;A</text>
<text x="765.80" y="1050.50" font-size="27" textLength="86.00" lengthAdjust="spacingAndGlyphs">r.4G&gt;A</text>
<text x="765.80" y="1090.65" font-size="27" textLength="85.00" lengthAdjust="spacingAndGlyphs">r.3C&gt;A</text>
<rect x="1.4" y="1010" width="500.7" height="217" fill="#fff" stroke="#2F5597" stroke-width="3.6"/>
<text x="138.30" y="1040.60" font-size="27.3" textLength="133.50" lengthAdjust="spacingAndGlyphs">r.35A&gt;G/C</text>
<line x1="188.20" y1="1054.60" x2="188.20" y2="1083.40" stroke="#FF0000" stroke-width="2" />
<path d="M188.20 1086.40 L183.20 1074.90 L188.20 1077.40 L193.20 1074.90 Z" fill="#FF0000"/>
<path d="M64.2 1104 L118.2 1083.7 Q190 1101 271.5 1082 L325 1098 Q200 1178 64.2 1104 Z" fill="#fff" stroke="#7030A0" stroke-width="3.1" stroke-linejoin="miter"/>
<path d="M41 1186 C39.6 1150 39 1131 42 1116 C45 1101.5 52 1096.5 66 1096 C74 1096 80 1096.8 87 1097.6" fill="none" stroke="#7030A0" stroke-width="5.6"/>
<path d="M301 1092 C340 1081.5 370 1074.5 398 1074.5 C450 1074.5 472 1131 474.8 1217.8" fill="none" stroke="#7030A0" stroke-width="5.6"/>
<defs><path id="aug" d="M101.5 1118 Q190 1143.5 286 1116.5"/></defs>
<text class="k" style="stroke-width:0.5px" font-size="39" textLength="184" lengthAdjust="spacingAndGlyphs"><textPath href="#aug" textLength="184" lengthAdjust="spacingAndGlyphs">AUGAUGU</textPath></text>
<path d="M28.5 1034 C30 1100 60 1155 111 1158.3" fill="none" stroke="#000" stroke-width="2"/>
<text x="120.5" y="1171.5" font-size="30" textLength="219.5" lengthAdjust="spacingAndGlyphs">5′<tspan font-size="20" dy="-1">-</tspan><tspan font-size="20" dy="9.5">Y</tspan><tspan dy="-8.5">U</tspan><tspan font-size="20" dy="8.5">N</tspan><tspan dy="-8.5">A</tspan><tspan font-size="20" dy="8.5">Y[PPT]U</tspan><tspan dy="-8.5">AG</tspan></text>
<text x="364.30" y="1117.30" font-size="27" textLength="77.50" lengthAdjust="spacingAndGlyphs">Exon2</text>
<rect x="365.3" y="1127" width="79" height="59.3" fill="#E2F0D9" stroke="#000" stroke-width="2.2"/>
<text x="385.80" y="1165.00" font-size="27" textLength="42.00" lengthAdjust="spacingAndGlyphs" class="g">GU</text>
</g>
<g id="panel-d">
<text x="916.30" y="706.20" font-size="38" textLength="23.50" lengthAdjust="spacingAndGlyphs" font-weight="bold" class="k" style="stroke-width:1px">d</text>
<path d="M1459.21 842.98 A194.5 194.5 0 0 1 1492.33 929.83" fill="none" stroke="#AFBBE0" stroke-width="7.2"/>
<path d="M1181.90 1154.00 A229.7 229.7 0 1 1 1508.40 865.70 L1448.90 890.60 A164.6 164.6 0 1 0 1214.30 1097.90 Z" fill="#FFF0C3" stroke="#2F5597" stroke-width="1.7"/>
<path d="M1514.70 886.10 A199 199 0 0 1 1416.20 1145.40 L1389.40 1089.70 A138 138 0 0 0 1457.10 908.30 Z" fill="#BDEBD7" stroke="#1F5A6B" stroke-width="1.7"/>
<defs><clipPath id="cy"><path d="M1181.90 1154.00 A229.7 229.7 0 1 1 1508.40 865.70 L1448.90 890.60 A164.6 164.6 0 1 0 1214.30 1097.90 Z"/></clipPath><clipPath id="cg"><path d="M1514.70 886.10 A199 199 0 0 1 1416.20 1145.40 L1389.40 1089.70 A138 138 0 0 0 1457.10 908.30 Z"/></clipPath></defs>
<g clip-path="url(#cy)">
<path d="M1169.79 1098.81 A194.5 194.5 0 1 1 1492.33 929.83" fill="none" stroke="#C5BBA2" stroke-width="8.2"/>
</g>
<g clip-path="url(#cg)">
<path d="M1459.21 842.98 A194.5 194.5 0 0 1 1428.81 1098.81" fill="none" stroke="#82B8B7" stroke-width="8.2"/>
</g>
<circle cx="1168.12" cy="1100.67" r="28.3" fill="#935279"/>
<circle cx="1114.90" cy="1023.01" r="28.3" fill="#935279"/>
<circle cx="1103.79" cy="929.52" r="28.3" fill="#935279"/>
<circle cx="1137.34" cy="841.55" r="28.3" fill="#935279"/>
<circle cx="1207.88" cy="779.20" r="28.3" fill="#935279"/>
<circle cx="1299.30" cy="756.70" r="28.3" fill="#935279"/>
<circle cx="1390.72" cy="779.20" r="28.3" fill="#935279"/>
<circle cx="1461.26" cy="841.55" r="28.3" fill="#935279"/>
<circle cx="1494.81" cy="929.52" r="28.3" fill="#55508C"/>
<circle cx="1483.70" cy="1023.01" r="28.3" fill="#55508C"/>
<circle cx="1430.48" cy="1100.67" r="28.3" fill="#55508C"/>
<circle cx="1296.15" cy="958.0" r="137.5" fill="none" stroke="#AFBBE0" stroke-width="7.2"/>
<line x1="1266.80" y1="1100.00" x2="1266.80" y2="1248.00" stroke="#AFBBE0" stroke-width="4.6" />
<line x1="1335.10" y1="1100.00" x2="1335.10" y2="1248.00" stroke="#AFBBE0" stroke-width="4.6" />
<circle cx="1262.76" cy="1093.96" r="19.9" fill="#4472C4"/>
<text class="b" x="1245.51" y="1104.96" font-size="24.4" fill="#fff">A</text>
<text class="b" x="1260.38" y="1094.76" font-size="16.4" fill="#fff">47</text>
<circle cx="1203.38" cy="1062.85" r="19.9" fill="#4472C4"/>
<text class="b" x="1185.20" y="1075.35" font-size="24.4" fill="#fff">U</text>
<text class="b" x="1202.11" y="1063.85" font-size="16.4" fill="#fff">46</text>
<circle cx="1165.27" cy="1007.71" r="19.9" fill="#4472C4"/>
<text class="b" x="1146.83" y="1021.61" font-size="24.4" fill="#fff">C</text>
<text class="b" x="1165.05" y="1009.61" font-size="16.4" fill="#fff">45</text>
<circle cx="1157.16" cy="941.18" r="19.9" fill="#4472C4"/>
<text class="b" x="1139.82" y="949.68" font-size="24.4" fill="#fff">A</text>
<text class="b" x="1154.69" y="939.98" font-size="16.4" fill="#fff" textLength="20.5" lengthAdjust="spacing">44</text>
<circle cx="1180.91" cy="878.50" r="19.9" fill="#4472C4"/>
<text class="b" x="1162.93" y="890.30" font-size="24.4" fill="#fff">U</text>
<text class="b" x="1180.83" y="879.80" font-size="16.4" fill="#fff">43</text>
<circle cx="1231.07" cy="834.04" r="19.9" fill="#4472C4"/>
<text class="b" x="1214.39" y="846.24" font-size="24.4" fill="#fff">U</text>
<text class="b" x="1231.09" y="836.24" font-size="16.4" fill="#fff">42</text>
<circle cx="1296.15" cy="818.00" r="19.9" fill="#4472C4"/>
<text class="b" x="1279.77" y="830.20" font-size="24.4" fill="#fff">U</text>
<text class="b" x="1297.07" y="819.00" font-size="16.4" fill="#fff">41</text>
<circle cx="1361.23" cy="834.04" r="19.9" fill="#4472C4"/>
<text class="b" x="1341.75" y="845.14" font-size="24.4" fill="#fff">U</text>
<text class="b" x="1358.85" y="833.94" font-size="16.4" fill="#fff">40</text>
<circle cx="1411.39" cy="878.50" r="19.9" fill="#4472C4"/>
<text class="b" x="1391.64" y="887.90" font-size="24.4" fill="#fff">C</text>
<text class="b" x="1409.07" y="877.80" font-size="16.4" fill="#fff">39</text>
<circle cx="1435.14" cy="941.18" r="19.9" fill="#4472C4"/>
<text class="b" x="1415.19" y="951.38" font-size="24.4" fill="#fff">C</text>
<text class="b" x="1432.71" y="939.68" font-size="16.4" fill="#fff">38</text>
<circle cx="1427.03" cy="1007.71" r="19.9" fill="#4472C4"/>
<text class="b" x="1408.61" y="1019.41" font-size="24.4" fill="#fff">G</text>
<text class="b" x="1427.10" y="1008.41" font-size="16.4" fill="#fff">37</text>
<circle cx="1388.92" cy="1062.85" r="19.9" fill="#4472C4"/>
<text class="b" x="1370.57" y="1074.75" font-size="24.4" fill="#fff">C</text>
<text class="b" x="1389.49" y="1064.05" font-size="16.4" fill="#fff">36</text>
<circle cx="1329.54" cy="1093.96" r="19.9" fill="#4472C4"/>
<text class="b" x="1311.07" y="1105.86" font-size="24.4" fill="#fff">U</text>
<text class="b" x="1328.92" y="1095.16" font-size="16.4" fill="#fff">35</text>
<circle cx="1266.8" cy="1140.6" r="20" fill="#4472C4"/>
<text x="1266.10" y="1147.80" font-size="21" text-anchor="middle" fill="#fff" class="b">A</text>
<circle cx="1266.8" cy="1194.3" r="20" fill="#4472C4"/>
<text x="1266.10" y="1201.50" font-size="21" text-anchor="middle" fill="#fff" class="b">A</text>
<circle cx="1266.8" cy="1248.0" r="20" fill="#4472C4"/>
<text x="1266.10" y="1255.20" font-size="21" text-anchor="middle" fill="#fff" class="b">G</text>
<circle cx="1335.1" cy="1140.6" r="20" fill="#4472C4"/>
<text x="1334.40" y="1147.80" font-size="21" text-anchor="middle" fill="#fff" class="b">U</text>
<circle cx="1335.1" cy="1194.3" r="20" fill="#4472C4"/>
<text x="1334.40" y="1201.50" font-size="21" text-anchor="middle" fill="#fff" class="b">U</text>
<circle cx="1335.1" cy="1248.0" r="20" fill="#4472C4"/>
<text x="1334.40" y="1255.20" font-size="21" text-anchor="middle" fill="#fff" class="b">C</text>
<text x="1283.30" y="958.80" font-size="22.5" textLength="28.00" lengthAdjust="spacingAndGlyphs" fill="#1971BC">U5</text>
<text x="1386.00" y="729.60" font-size="27" textLength="91.50" lengthAdjust="spacingAndGlyphs" fill="#FFC000">5′ exon</text>
<text x="1538.00" y="931.00" font-size="27" textLength="91.50" lengthAdjust="spacingAndGlyphs" fill="#92D050">3′ exon</text>
<text x="982.50" y="753.10" font-size="27" textLength="146.50" lengthAdjust="spacingAndGlyphs">r.42_43insA</text>
<text x="1500.00" y="764.10" font-size="27" textLength="147.50" lengthAdjust="spacingAndGlyphs">r.39_40insT</text>
<text x="1636.50" y="829.20" font-size="27" textLength="103.00" lengthAdjust="spacingAndGlyphs">r.39C&gt;G</text>
<text x="1528.50" y="884.10" font-size="27" textLength="190.00" lengthAdjust="spacingAndGlyphs">Splice junction</text>
<text x="1569.80" y="1003.50" font-size="27" textLength="101.50" lengthAdjust="spacingAndGlyphs">r.37G&gt;C</text>
<text x="916.80" y="1030.40" font-size="27" textLength="102.50" lengthAdjust="spacingAndGlyphs">r.44A&gt;G</text>
<line x1="1109.90" y1="765.40" x2="1195.76" y2="843.37" stroke="#FF0000" stroke-width="2.5" />
<path d="M1200.20 847.40 L1186.44 842.47 L1192.80 840.68 L1193.97 834.18 Z" fill="#FF0000"/>
<line x1="1490.10" y1="763.70" x2="1396.16" y2="840.02" stroke="#FF0000" stroke-width="2.5" />
<path d="M1391.50 843.80 L1398.45 830.94 L1399.26 837.49 L1405.51 839.63 Z" fill="#FF0000"/>
<line x1="1623.80" y1="828.40" x2="1440.50" y2="877.35" stroke="#FF0000" stroke-width="2.5" />
<path d="M1434.70 878.90 L1446.30 870.01 L1444.36 876.32 L1449.19 880.83 Z" fill="#FF0000"/>
<line x1="1556.20" y1="995.90" x2="1457.80" y2="995.90" stroke="#FF0000" stroke-width="2.5" />
<path d="M1451.80 995.90 L1465.30 990.30 L1461.80 995.90 L1465.30 1001.50 Z" fill="#FF0000"/>
<line x1="1024.50" y1="1007.60" x2="1130.17" y2="953.15" stroke="#FF0000" stroke-width="2.5" />
<path d="M1135.50 950.40 L1126.06 961.56 L1126.61 954.98 L1120.93 951.61 Z" fill="#FF0000"/>
</g>
</svg>
</body></html>
